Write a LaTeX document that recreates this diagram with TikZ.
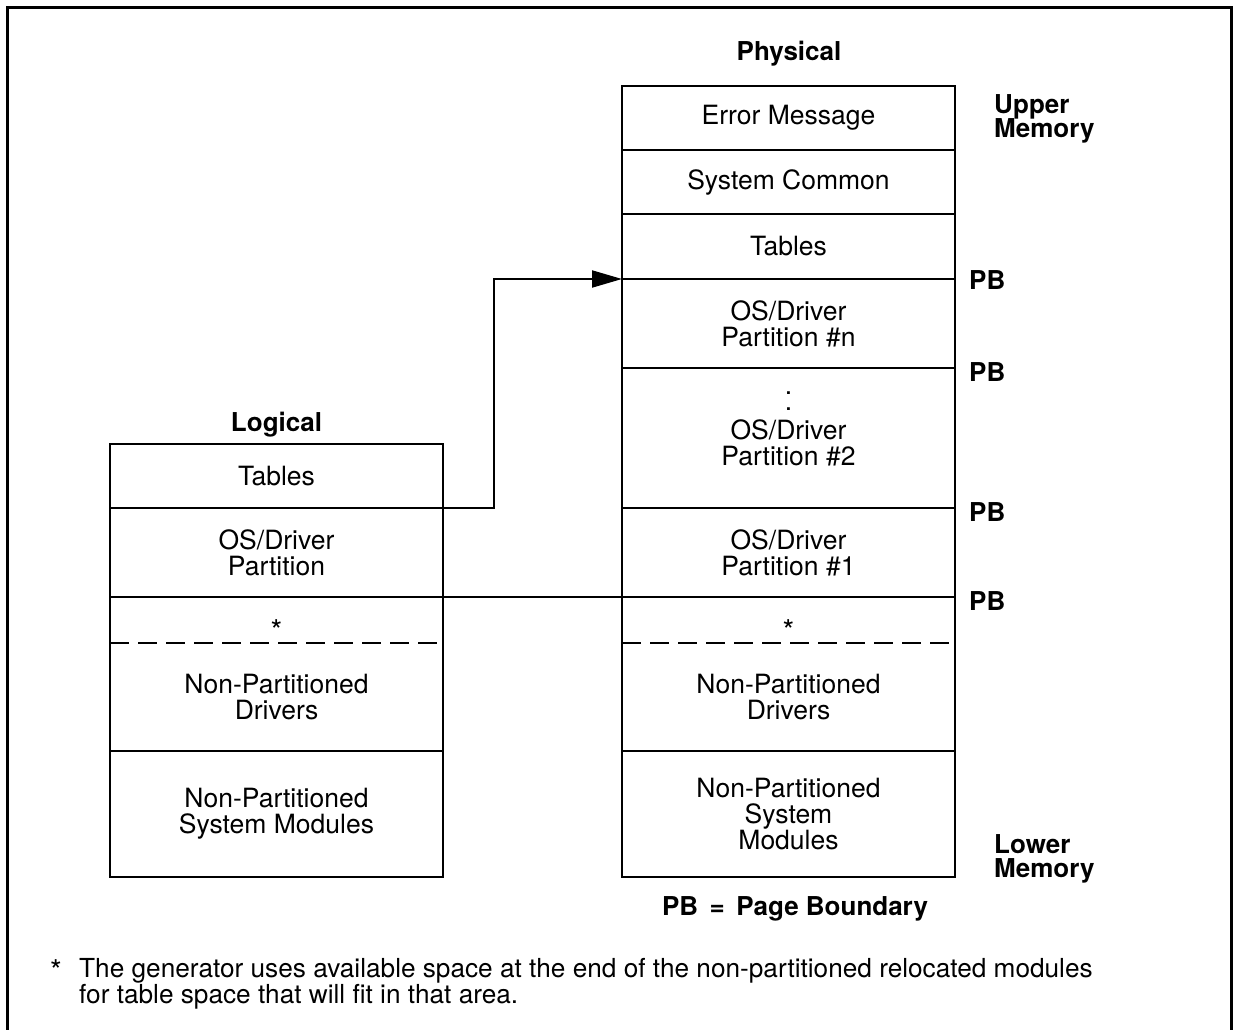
\documentclass[tikz,border=0pt]{standalone}
\usepackage{fontspec}
\setmainfont{TeX Gyre Heros}
\usetikzlibrary{arrows.meta}
\begin{document}
\begin{tikzpicture}[x=1pt,y=-1pt,
  cell/.style={draw=none,inner sep=0pt,outer sep=0pt,minimum width=333pt,align=center,
    font=\fontsize{26.5}{26}\selectfont},
  celltext/.style={inner sep=0pt,outer sep=0pt,align=center,font=\fontsize{26.5}{26}\selectfont},
  starcell/.style={cell,font=\fontsize{30}{26}\selectfont},
  boxline/.style={line width=2.4pt},
  thinline/.style={line width=1.6pt},
  dashline/.style={line width=2.2pt,dash pattern=on 19pt off 9pt},
  lbl/.style={inner sep=0pt,font=\fontsize{26}{25}\selectfont\bfseries,align=left},
  note/.style={inner sep=0pt,font=\fontsize{26.2}{26}\selectfont}]
\useasboundingbox (0,0) rectangle (1236,1030);
% frame
\draw[line width=2.4pt] (7.5,1032) -- (7.5,7.5) -- (1231.5,7.5) -- (1231.5,1032);

% Physical column
\node[cell,minimum height=64pt] (pE) at (788.5,118) {Error Message};
\node[cell,minimum height=64pt] (pS) at (788.5,182) {System Common};
\node[cell,minimum height=65pt] (pT) at (788.5,246.5) {Tables};
\node[cell,minimum height=89pt] (pN) at (788.5,323.5) {OS/Driver\\Partition \#n};
\node[cell,minimum height=140pt] (p2) at (788.5,438) {};
\node[celltext,anchor=base] (p2dots) at (788.5,410) {.\\[-10pt].};
\node[celltext,anchor=base] (p2t) at (788.5,465) {OS/Driver\\Partition \#2};
\node[cell,minimum height=89pt] (p1) at (788.5,552.5) {OS/Driver\\Partition \#1};
\node[starcell,minimum height=46pt] (pX) at (788.5,620) {\smash{\raisebox{-21pt}{*}}};
\node[cell,minimum height=108pt] (pD) at (788.5,697) {Non-Partitioned\\Drivers};
\node[cell,minimum height=126pt] (pM) at (788.5,814) {Non-Partitioned\\System\\Modules};

\draw[boxline] (pE.north west) rectangle (pM.south east);
\foreach \c in {pE,pS,pT,pN,p2,p1,pD}{\draw[boxline] (\c.south west) -- (\c.south east);}
\draw[dashline] (pX.south west) -- (pX.south east);

% Logical column
\node[cell,minimum height=64pt] (lT) at (276.5,476) {Tables};
\node[cell,minimum height=89pt] (lP) at (276.5,552.5) {OS/Driver\\Partition};
\node[starcell,minimum height=46pt] (lX) at (276.5,620) {\smash{\raisebox{-21pt}{*}}};
\node[cell,minimum height=108pt] (lD) at (276.5,697) {Non-Partitioned\\Drivers};
\node[cell,minimum height=126pt] (lM) at (276.5,814) {Non-Partitioned\\System Modules};

\draw[boxline] (lT.north west) rectangle (lM.south east);
\foreach \c in {lT,lP,lD}{\draw[boxline] (\c.south west) -- (\c.south east);}
\draw[dashline] (lX.south west) -- (lX.south east);

% connectors
\draw[line width=2pt,-{Triangle[length=30pt,width=17pt]}] (lT.south east) -- ++(51,0) |- (pT.south west);
\draw[thinline] (lP.south east) -- (p1.south west);

% titles and labels
\node[lbl,anchor=base] (phys) at (789,61) {Physical};
\node[lbl,anchor=base] (logi) at (276.5,431) {Logical};
\node[lbl,anchor=base west] (upm) at (994,137) {Upper\\[-1pt]Memory};
\node[lbl,anchor=base west] (lom) at (994,877) {Lower\\[-1pt]Memory};
\node[lbl,anchor=base west] (pb1) at (969,289) {PB};
\node[lbl,anchor=base west] (pb2) at (969,381) {PB};
\node[lbl,anchor=base west] (pb3) at (969,521) {PB};
\node[lbl,anchor=base west] (pb4) at (969,610) {PB};
\node[lbl,anchor=base] (pbkey) at (795,915) {PB \,=\, Page Boundary};

% footnote
\node[note,anchor=base west,font=\fontsize{30}{26}\selectfont] (star) at (50,981) {*};
\node[note,anchor=base west,align=left] (fn) at (79,1003) {The generator uses available space at the end of the non-partitioned relocated modules\\for table space that will fit in that area.};
\end{tikzpicture}
\end{document}
